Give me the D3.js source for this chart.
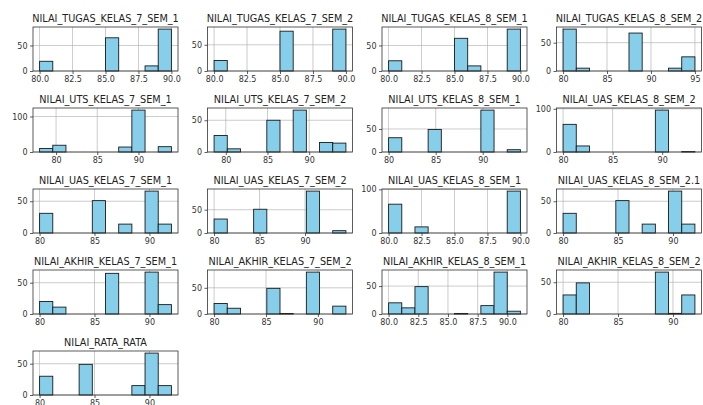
<!DOCTYPE html>
<html>
<head>
<meta charset="utf-8">
<script src="https://cdn.jsdelivr.net/npm/d3@7"></script>
<style>
  html,body{margin:0;padding:0;background:#fff;}
  svg{display:block;}
</style>
</head>
<body>
<svg id="chart" width="703" height="405"></svg>
<script>
// histogram grid, 10 bins per column

const titles = [
  "NILAI_TUGAS_KELAS_7_SEM_1","NILAI_TUGAS_KELAS_7_SEM_2","NILAI_TUGAS_KELAS_8_SEM_1","NILAI_TUGAS_KELAS_8_SEM_2",
  "NILAI_UTS_KELAS_7_SEM_1","NILAI_UTS_KELAS_7_SEM_2","NILAI_UTS_KELAS_8_SEM_1","NILAI_UAS_KELAS_8_SEM_2",
  "NILAI_UAS_KELAS_7_SEM_1","NILAI_UAS_KELAS_7_SEM_2","NILAI_UAS_KELAS_8_SEM_1","NILAI_UAS_KELAS_8_SEM_2.1",
  "NILAI_AKHIR_KELAS_7_SEM_1","NILAI_AKHIR_KELAS_7_SEM_2","NILAI_AKHIR_KELAS_8_SEM_1","NILAI_AKHIR_KELAS_8_SEM_2",
  "NILAI_RATA_RATA"
];

// lowest and highest bin edge of each histogram
const binLo = [80,80,80,80, 78,78.6,80,80, 80,80,80,80, 80,80,80,80, 80];
const binHi = [90,90,90,95, 94,94.4,94,93.3, 92,94.5,90,92, 92,92.7,91.1,92, 92];

const counts = [
  [19,0,0,0,0,65,0,0,10,82],
  [20,0,0,0,0,76,0,0,0,80],
  [20,0,0,0,0,64,10,0,0,82],
  [74,5,0,0,0,67,0,0,5,25],
  [10,19,0,0,0,0,14,118,0,15],
  [26,5,0,0,50,0,66,0,15,14],
  [31,0,0,49,0,0,0,91,0,5],
  [64,14,0,0,0,0,0,97,0,1],
  [31,0,0,0,51,0,14,0,66,14],
  [30,0,0,51,0,0,0,90,0,5],
  [66,0,14,0,0,0,0,0,0,96],
  [31,0,0,0,51,0,14,0,66,14],
  [20,11,0,0,0,65,0,0,67,15],
  [20,11,0,0,49,1,0,80,0,15],
  [20,11,49,0,0,1,0,15,75,5],
  [30,49,0,0,0,0,0,66,1,30],
  [30,0,0,49,0,0,0,15,67,15]
];

const fineTicks  = ["80.0","82.5","85.0","87.5","90.0"];
const coarseTicks = ["80","85","90"];
const wideTicks  = ["80","85","90","95"];
const xTickSets = [
  fineTicks,fineTicks,fineTicks,wideTicks,
  coarseTicks,coarseTicks,coarseTicks,coarseTicks,
  coarseTicks,coarseTicks,fineTicks,coarseTicks,
  coarseTicks,coarseTicks,fineTicks,coarseTicks,
  coarseTicks
];
const yTickSets = [
  [0,50],[0,50],[0,50],[0,50],
  [0,100],[0,50],[0,50],[0,100],
  [0,50],[0,50],[0,100],[0,50],
  [0,50],[0,50],[0,50],[0,50],
  [0,50]
];

const COL_X=[33,207.5,382,556.5];
const ROW_Y=[27,108,189,270,351];
const AW=145, AH=44;
const FONT="'DejaVu Sans', sans-serif";

const svg=d3.select("#chart");

titles.forEach((title,i)=>{
  const x0=COL_X[i%4], y0=ROW_Y[Math.floor(i/4)];
  const lo=binLo[i], hi=binHi[i], c=counts[i];
  const pad=(hi-lo)*0.05;
  const edge=d3.scaleLinear().domain([0,10]).range([lo,hi]);

  const xS=d3.scaleLinear().domain([lo-pad,hi+pad]).range([0,AW]);
  const yS=d3.scaleLinear().domain([0,d3.max(c)*1.05]).range([AH,0]);
  const xt=xTickSets[i].map(Number);

  const g=svg.append("g").attr("transform",`translate(${x0},${y0})`);

  // grid
  g.selectAll("line.gx").data(xt).join("line").attr("class","gx")
    .attr("x1",d=>xS(d)).attr("x2",d=>xS(d)).attr("y1",0).attr("y2",AH)
    .attr("stroke","#b0b0b0").attr("stroke-width",0.8).attr("opacity",0.8);
  g.selectAll("line.gy").data(yTickSets[i]).join("line").attr("class","gy")
    .attr("x1",0).attr("x2",AW).attr("y1",d=>yS(d)).attr("y2",d=>yS(d))
    .attr("stroke","#b0b0b0").attr("stroke-width",0.8).attr("opacity",0.8);

  // bars
  g.selectAll("rect").data(c.map((v,k)=>({k,v})).filter(d=>d.v>0)).join("rect")
    .attr("x",d=>xS(edge(d.k))).attr("width",d=>xS(edge(d.k+1))-xS(edge(d.k)))
    .attr("y",d=>yS(d.v)).attr("height",d=>AH-yS(d.v))
    .attr("fill","#87ceeb").attr("stroke","#1a1a1a").attr("stroke-width",0.9);

  // axes
  const xa=g.append("g").attr("transform",`translate(0,${AH})`)
    .call(d3.axisBottom(xS).tickValues(xt).tickSize(3).tickPadding(2.5)
      .tickFormat((d,j)=>xTickSets[i][j]));
  const ya=g.append("g")
    .call(d3.axisLeft(yS).tickValues(yTickSets[i]).tickSize(3).tickPadding(2.5));
  [xa,ya].forEach(a=>{
    a.select(".domain").remove();
    a.selectAll("line").attr("stroke","#333").attr("stroke-width",0.8);
    a.selectAll("text").attr("fill","#333").style("font-size","8px").style("font-family",FONT);
  });

  // frame
  g.append("rect").attr("width",AW).attr("height",AH)
    .attr("fill","none").attr("stroke","#333").attr("stroke-width",0.8);

  g.append("text").attr("x",AW/2).attr("y",-5.5)
    .attr("text-anchor","middle").attr("fill","#222")
    .style("font-size","9.7px").style("font-family",FONT)
    .text(title);
});
</script>
</body>
</html>
